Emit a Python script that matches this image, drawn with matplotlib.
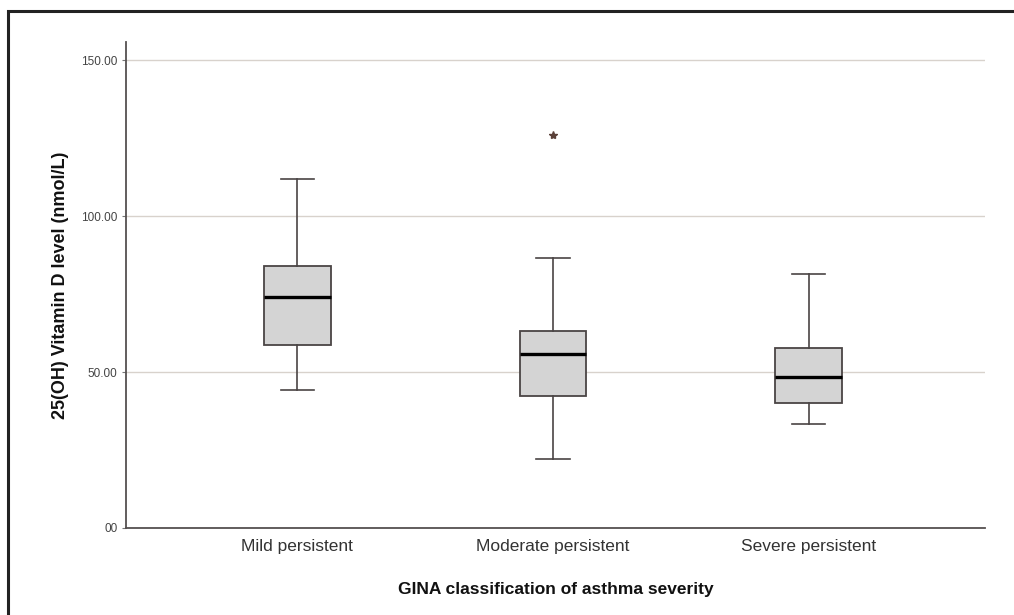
import matplotlib
matplotlib.use("Agg")
import matplotlib.pyplot as plt
from matplotlib.patches import Rectangle

# data
CATEGORIES = ["Mild persistent", "Moderate persistent", "Severe persistent"]
WHISKER_LOW = [44.2, 22.1, 33.3]
Q1 = [58.7, 42.3, 40.1]
MEDIAN = [74.0, 55.8, 48.4]
Q3 = [84.0, 63.1, 57.7]
WHISKER_HIGH = [111.9, 86.5, 81.4]
OUTLIERS = [[], [126.0], []]

Y_TICKS = [0, 50, 100, 150]
Y_TICK_LABELS = ["00", "50.00", "100.00", "150.00"]

X_LABEL = "GINA classification of asthma severity"
Y_LABEL = "25(OH) Vitamin D level (nmol/L)"

plt.rcParams['font.family'] = ['Liberation Sans', 'DejaVu Sans']


def main():
    fig = plt.figure(figsize=(10.14, 6.15), dpi=100)
    ax = fig.add_axes([0.1243, 0.1415, 0.8471, 0.7902])

    stats = []
    for name, lo, q1, med, q3, hi, fl in zip(CATEGORIES, WHISKER_LOW, Q1, MEDIAN, Q3, WHISKER_HIGH, OUTLIERS):
        stats.append(dict(label=name, whislo=lo, q1=q1, med=med, q3=q3, whishi=hi, fliers=fl))

    edge = '#4a4444'
    ax.bxp(stats, positions=[1, 2, 3], widths=0.26, patch_artist=True,
           showfliers=True,
           boxprops=dict(facecolor='#d4d4d4', edgecolor=edge, linewidth=1.3),
           medianprops=dict(color='black', linewidth=2.4),
           whiskerprops=dict(color=edge, linewidth=1.2),
           capprops=dict(color=edge, linewidth=1.2),
           capwidths=0.13,
           flierprops=dict(marker='*', markersize=6, markerfacecolor='#5a4038',
                           markeredgecolor='#5a4038'),
           zorder=3)

    ax.set_xlim(0.33, 3.69)
    ax.set_ylim(0, 155.8)
    ax.set_yticks(Y_TICKS)
    ax.set_yticklabels(Y_TICK_LABELS, fontsize=8.5, color='#444444')
    ax.set_xticks([1, 2, 3])
    ax.set_xticklabels(CATEGORIES, fontsize=12.5, color='#333333')
    ax.tick_params(axis='x', length=0, pad=8)
    ax.tick_params(axis='y', length=3, color='#777777', pad=3)

    ax.yaxis.grid(True, color='#d8d2cc', linewidth=1.0, zorder=0)
    ax.set_axisbelow(True)

    for side in ['top', 'right']:
        ax.spines[side].set_visible(False)
    for side in ['left', 'bottom']:
        ax.spines[side].set_color('#555050')
        ax.spines[side].set_linewidth(1.3)

    ax.set_xlabel(X_LABEL, fontsize=12.5, fontweight='bold', labelpad=20, color='#111111')
    ax.set_ylabel(Y_LABEL, fontsize=13, fontweight='bold', labelpad=9, color='#111111')

    # outer frame of the original picture (runs off the right and bottom edges)
    fig.add_artist(Rectangle((8 / 1014, -0.05), 1.1, 1.05 - 11 / 615,
                             transform=fig.transFigure, fill=False,
                             edgecolor='#222222', linewidth=2.2))

    fig.savefig("out.png", dpi=100)
    plt.close(fig)


main()
